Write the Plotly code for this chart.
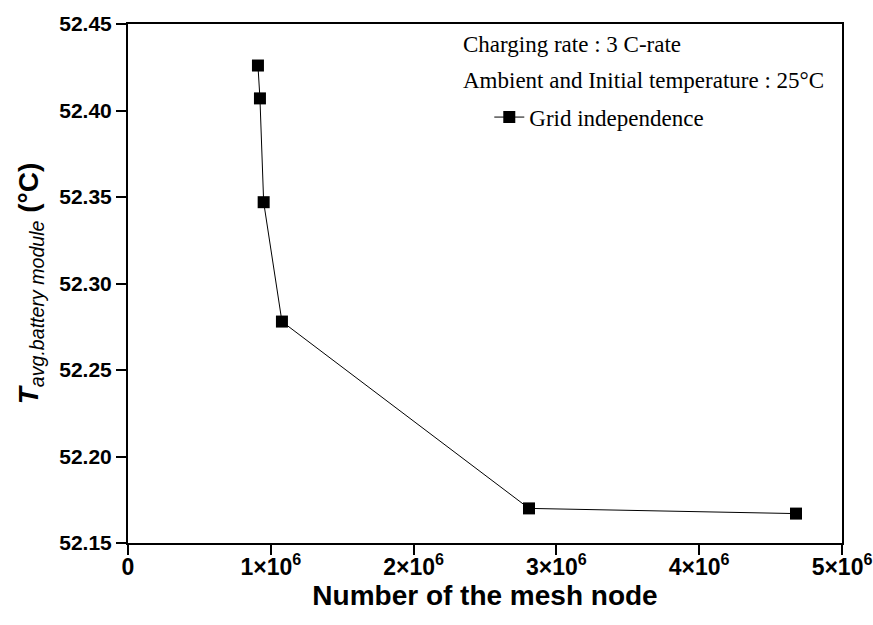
import plotly.graph_objects as go

mesh_nodes = [0.910e6, 0.924e6, 0.950e6, 1.078e6, 2.808e6, 4.678e6]
t_avg = [52.426, 52.407, 52.347, 52.278, 52.170, 52.167]

x_tickvals = [0, 1e6, 2e6, 3e6, 4e6, 5e6]
x_ticktext = ["0", "1×10<sup>6</sup>", "2×10<sup>6</sup>", "3×10<sup>6</sup>",
              "4×10<sup>6</sup>", "5×10<sup>6</sup>"]
y_tickvals = [52.15, 52.20, 52.25, 52.30, 52.35, 52.40, 52.45]

SANS = "Liberation Sans, Arial, sans-serif"
SERIF = "Liberation Serif, Times New Roman, serif"

fig = go.Figure()
fig.add_trace(go.Scatter(
    x=mesh_nodes, y=t_avg, mode="lines+markers", name="Grid independence",
    line=dict(color="black", width=1),
    marker=dict(symbol="square", size=12, color="black"),
))

fig.update_layout(
    width=873, height=625,
    margin=dict(l=128, r=31, t=24, b=82, autoexpand=False),
    paper_bgcolor="white", plot_bgcolor="white",
    showlegend=True,
    legend=dict(x=0.506, y=0.862, xanchor="left", yanchor="top",
                font=dict(family=SERIF, size=23, color="black"),
                bgcolor="rgba(0,0,0,0)", borderwidth=0),
    annotations=[
        dict(text="Charging rate : 3 C-rate", x=0.466, y=0.961, xref="paper", yref="paper",
             xanchor="left", yanchor="middle", showarrow=False,
             font=dict(family=SERIF, size=23, color="black")),
        dict(text="Ambient and Initial temperature : 25°C", x=0.466, y=0.892, xref="paper", yref="paper",
             xanchor="left", yanchor="middle", showarrow=False,
             font=dict(family=SERIF, size=23, color="black")),
    ],
)

fig.update_xaxes(
    range=[0, 5e6], tickvals=x_tickvals, ticktext=x_ticktext, automargin=False,
    showline=True, mirror=True, linecolor="black", linewidth=2,
    ticks="outside", ticklen=10, tickwidth=2, tickcolor="black",
    ticklabelstandoff=-8,
    showgrid=False, zeroline=False,
    tickfont=dict(family=SANS, size=23, color="black", weight="bold"),
    title=dict(text="<b>Number of the mesh node</b>", standoff=2,
               font=dict(family=SANS, size=28, color="black")),
)
fig.update_yaxes(
    range=[52.15, 52.45], tickvals=y_tickvals, tickformat=".2f", automargin=False,
    showline=True, mirror=True, linecolor="black", linewidth=2,
    ticks="outside", ticklen=10, tickwidth=2, tickcolor="black",
    showgrid=False, zeroline=False,
    tickfont=dict(family=SANS, size=21, color="black", weight="bold"),
    title=dict(text="<b><i>T</i></b><i><sub>avg.battery module</sub></i><b> (°C)</b>", standoff=12,
               font=dict(family=SANS, size=28, color="black")),
)

fig.write_html("out.html")
